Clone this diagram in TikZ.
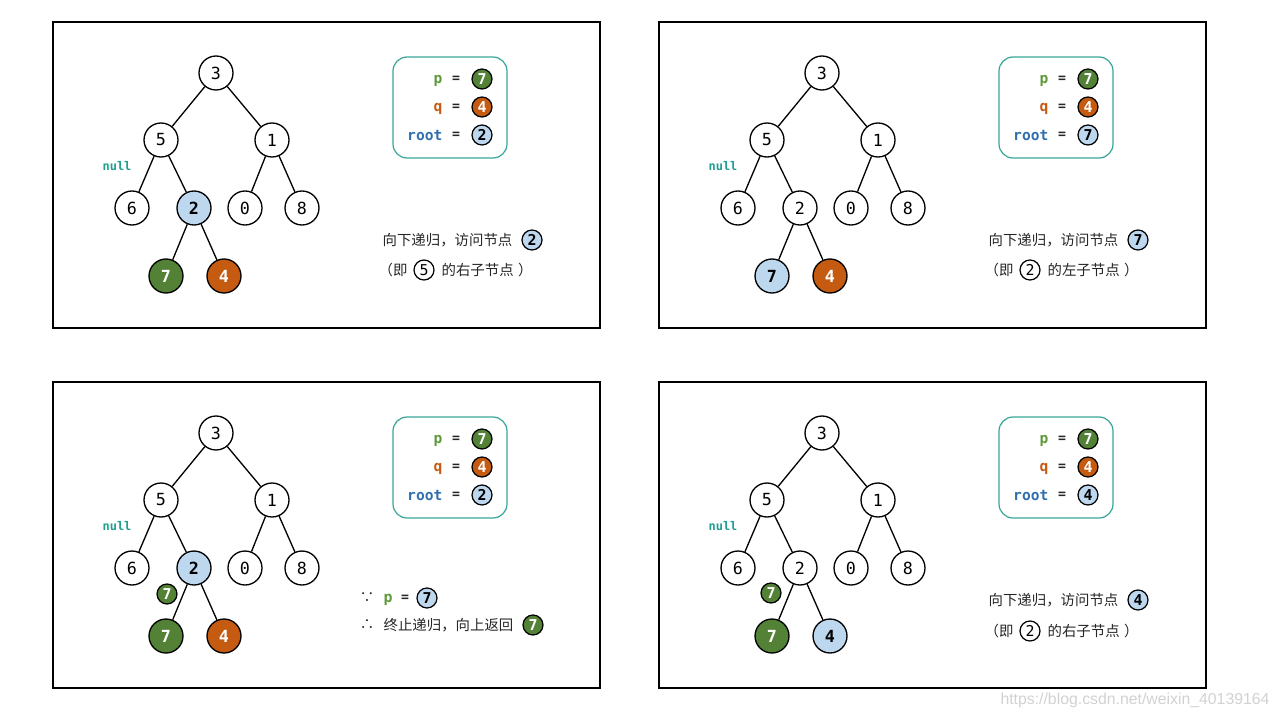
\documentclass[tikz,border=0pt]{standalone}
\usepackage{fontspec}
\setmainfont{DejaVu Sans}
\newfontfamily\codefont{DejaVu Sans Mono}
\newfontfamily\cjk{Noto Sans CJK SC}
\newfontfamily\urlfont{Liberation Sans}
\usetikzlibrary{positioning}

\definecolor{pgreen}{HTML}{538135}
\definecolor{plabel}{HTML}{5F9A3B}
\definecolor{qorange}{HTML}{C55A11}
\definecolor{rootblue}{HTML}{2F6FAF}
\definecolor{hlblue}{HTML}{BDD7EE}
\definecolor{boxteal}{HTML}{3AA69A}
\definecolor{nullteal}{HTML}{1E9E8E}
\definecolor{inktext}{HTML}{262626}

\tikzset{
  frame/.style={draw=black,line width=0.85pt},
  tnode/.style={circle,draw,line width=0.75pt,fill=white,minimum size=0.68cm,inner sep=0pt,
    font=\codefont\fontsize{9.5}{10}\selectfont},
  tbold/.style={font=\codefont\bfseries\fontsize{9.5}{10}\selectfont},
  tplain/.style={},
  thl/.style={tbold,fill=hlblue},
  tpg/.style={tbold,fill=pgreen,text=white},
  tqo/.style={tbold,fill=qorange,text=white},
  chip/.style={circle,draw,line width=0.7pt,fill=white,minimum size=0.40cm,inner sep=0pt,
    font=\codefont\bfseries\fontsize{8.5}{9}\selectfont},
  cplain/.style={font=\codefont\fontsize{8.5}{9}\selectfont},
  chl/.style={fill=hlblue},
  cpg/.style={fill=pgreen,text=white},
  cqo/.style={fill=qorange,text=white},
  infobox/.style={draw=boxteal,line width=0.7pt,rounded corners=0.28cm,
    minimum width=2.28cm,minimum height=2.02cm,inner sep=0pt},
  vlabel/.style={anchor=east,inner sep=0pt,font=\codefont\bfseries\fontsize{8.3}{9}\selectfont},
  eqsign/.style={inner sep=0pt,text=inktext,font=\codefont\bfseries\fontsize{7.5}{8}\selectfont},
  cn/.style={anchor=west,inner sep=0pt,text=inktext,font=\cjk\fontsize{8.2}{9}\selectfont},
  nulltag/.style={inner sep=0pt,text=nullteal,font=\codefont\bfseries\fontsize{6.8}{7}\selectfont}
}

\begin{document}
\begin{tikzpicture}[x=0.02cm,y=-0.02cm,line width=0.75pt]
\useasboundingbox[fill=white] (0,0) rectangle (1280,720);
% four frames, each with the tree and the p/q/root box
\foreach \pn/\dx/\dy/\stwo/\sseven/\sfour/\rootv in
  {a/0/0/thl/tpg/tqo/2,b/606/0/tplain/thl/tqo/7,c/0/360/thl/tpg/tqo/2,d/606/360/tplain/tpg/thl/4} {
\begin{scope}[shift={(\dx,\dy)}]
  \draw[frame] (53,22) rectangle (600,328);
  \node[tnode] (\pn-3) at (216,73) {3};
  \node[tnode] (\pn-5) at (161,140) {5};
  \node[tnode] (\pn-1) at (272,140) {1};
  \node[tnode] (\pn-6) at (132,208) {6};
  \node[tnode,\stwo] (\pn-2) at (194,208) {2};
  \node[tnode] (\pn-0) at (245,208) {0};
  \node[tnode] (\pn-8) at (302,208) {8};
  \node[tnode,\sseven] (\pn-7) at (166,276) {7};
  \node[tnode,\sfour] (\pn-4) at (224,276) {4};
  \draw (\pn-3) -- (\pn-5) (\pn-3) -- (\pn-1);
  \draw (\pn-5) -- (\pn-6) (\pn-5) -- (\pn-2);
  \draw (\pn-1) -- (\pn-0) (\pn-1) -- (\pn-8);
  \draw (\pn-2) -- (\pn-7) (\pn-2) -- (\pn-4);
  \node[nulltag] (\pn-null) at (117,166) {null};
  % value box
  \node[infobox] (\pn-box) at (450,107.5) {};
  \node[vlabel,text=plabel] (\pn-pl) at (443,81) {p};
  \node[vlabel,text=qorange] (\pn-ql) at (443,109) {q};
  \node[vlabel,text=rootblue] (\pn-rl) at (443,135) {root};
  \node[eqsign] (\pn-peq) at (456,79) {=};
  \node[eqsign] (\pn-qeq) at (456,107) {=};
  \node[eqsign] (\pn-req) at (456,135) {=};
  \node[chip,cpg] (\pn-pc) at (482,79) {7};
  \node[chip,cqo] (\pn-qc) at (482,107) {4};
  \node[chip,chl] (\pn-rc) at (482,135) {\rootv};
\end{scope}
}
% first frame
\node[cn] (a-t1) at (382,240) {向下递归，访问节点};
\node[chip,chl] (a-c1) at (532,240) {2};
\node[cn] (a-t2) at (378,270) {（即};
\node[chip,cplain] (a-c2) at (424,270) {5};
\node[cn] (a-t3) at (441,270) {的右子节点\hspace{2.5pt}）};
% second frame
\node[cn] (b-t1) at (988,240) {向下递归，访问节点};
\node[chip,chl] (b-c1) at (1138,240) {7};
\node[cn] (b-t2) at (984,270) {（即};
\node[chip,cplain] (b-c2) at (1030,270) {2};
\node[cn] (b-t3) at (1047,270) {的左子节点\hspace{2.5pt}）};
% third frame
\node[chip,cpg] (c-7s) at (167,594) {7};
\node[inner sep=0pt,text=inktext,font=\cjk\fontsize{8.2}{9}\selectfont] (c-since) at (367,598) {∵};
\node[inner sep=0pt,text=plabel,font=\codefont\bfseries\fontsize{8.5}{9}\selectfont] (c-p) at (388,600) {p};
\node[eqsign] (c-eq) at (405,598) {=};
\node[chip,chl] (c-c1) at (427,598) {7};
\node[inner sep=0pt,text=inktext,font=\cjk\fontsize{8.2}{9}\selectfont] (c-hence) at (367,625) {∴};
\node[cn] (c-t2) at (383,625) {终止递归，向上返回};
\node[chip,cpg] (c-c2) at (533,625) {7};
% fourth frame
\node[chip,cpg] (d-7s) at (771,593) {7};
\node[cn] (d-t1) at (988,600) {向下递归，访问节点};
\node[chip,chl] (d-c1) at (1138,600) {4};
\node[cn] (d-t2) at (984,631) {（即};
\node[chip,cplain] (d-c2) at (1030,631) {2};
\node[cn] (d-t3) at (1047,631) {的右子节点\hspace{2.5pt}）};
\node[inner sep=0pt,text=gray!35,font=\urlfont\fontsize{9}{10}\selectfont] (mark) at (1135,700) {https://blog.csdn.net/weixin\_40139164};
\end{tikzpicture}
\end{document}
